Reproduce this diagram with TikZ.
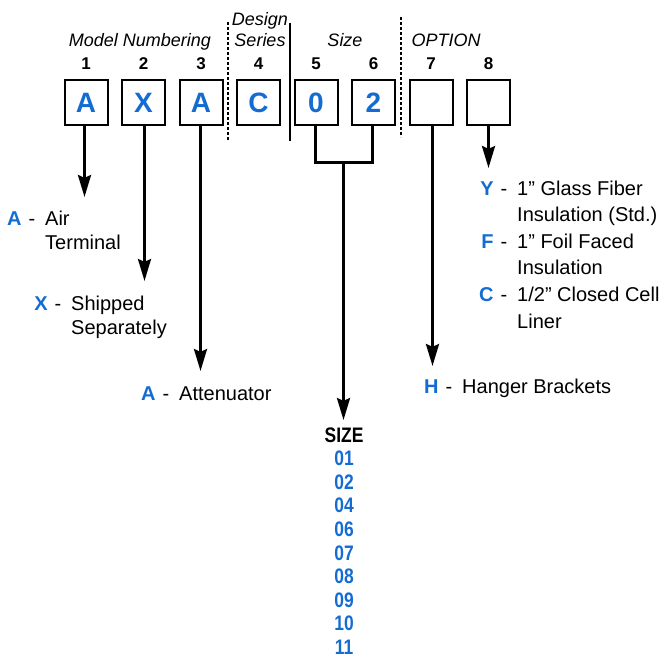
\documentclass[tikz,border=0pt]{standalone}
\usepackage{fontspec}
\setmainfont{Liberation Sans}
\usepackage{tikz}
\usetikzlibrary{arrows.meta,positioning}
\definecolor{codeblue}{RGB}{20,108,210}
\newcommand{\codeltr}[1]{{\color{codeblue}\bfseries #1}}

\begin{document}
\begin{tikzpicture}[
  x=1pt, y=-1pt,
  codebox/.style={rectangle, draw, line width=2pt, minimum width=43pt,
                  minimum height=45pt, inner sep=0pt, text=codeblue,
                  font=\fontsize{28}{28}\selectfont\bfseries},
  posnum/.style={inner sep=0pt, font=\fontsize{17}{17}\selectfont\bfseries},
  grphead/.style={inner sep=0pt, anchor=base,
                  font=\fontsize{18}{18}\selectfont\itshape},
  keyltr/.style={inner sep=0pt, anchor=base east,
                 font=\fontsize{20}{24}\selectfont},
  desc/.style={inner sep=0pt, anchor=base west, align=left,
               font=\fontsize{20}{24}\selectfont},
  optdesc/.style={desc, font=\fontsize{20}{26.6}\selectfont},
  sizecode/.style={inner sep=0pt, anchor=base, text=codeblue,
                   font=\fontsize{21}{21}\selectfont\bfseries},
  sep/.style={line width=1.3pt},
  bar/.style={line width=3pt},
  arr/.style={-{Stealth[length=22pt,width=13pt,inset=3pt]}, line width=3pt}
]
  \useasboundingbox (0,0) rectangle (664,658);

  % code boxes and their positions
  \foreach \ch [count=\i] in {A,X,A,C,0,2,{},{}} {
    \node[codebox] (b\i) at ({86+57.5*(\i-1)},102.5) {\ch};
    \node[posnum, above=9pt of b\i] (n\i) {\i};
  }

  % group headings
  \node[grphead] (hmodel) at (140,47) {Model Numbering};
  \node[grphead] (hdes)   at (260,26) {Design};
  \node[grphead] (hser)   at (260,47) {Series};
  \node[grphead] (hsize)  at (345,47) {Size};
  \node[grphead] (hopt)   at (446,47) {OPTION};

  % separators
  \draw[sep, dash pattern=on 3pt off 2pt] (228,22) -- (228,140);
  \draw[sep] (290,23) -- (290,141);
  \draw[sep, dash pattern=on 3pt off 2pt] (401,17) -- (401,137);

  % descriptions (multi-line nodes sit on their last line)
  \node[keyltr] (ka)  at (35.5,225) {\codeltr{A}\hspace{7pt}-};
  \node[desc]   (da)  at (45,249)   {Air\\Terminal};
  \node[keyltr] (kx)  at (61.5,310) {\codeltr{X}\hspace{7pt}-};
  \node[desc]   (dx)  at (71,334)   {Shipped\\Separately};
  \node[keyltr] (kat) at (169.5,400) {\codeltr{A}\hspace{7pt}-};
  \node[desc]   (dat) at (179,400)  {Attenuator};
  \node[keyltr] (kh)  at (452.5,393) {\codeltr{H}\hspace{7pt}-};
  \node[desc]   (dh)  at (462,393)  {Hanger Brackets};

  \node[keyltr]  (ky) at (507.5,195)   {\codeltr{Y}\hspace{7pt}-};
  \node[optdesc] (dy) at (517,221.6)   {1” Glass Fiber\\Insulation (Std.)};
  \node[keyltr]  (kf) at (507.5,248.2) {\codeltr{F}\hspace{7pt}-};
  \node[optdesc] (df) at (517,274.8)   {1” Foil Faced\\Insulation};
  \node[keyltr]  (kc) at (507.5,301.4) {\codeltr{C}\hspace{7pt}-};
  \node[optdesc] (dc) at (517,328)     {1/2” Closed Cell\\Liner};

  % size list
  \node[sizecode, text=black] (szh) at (344,442) {\scalebox{0.83}[1]{SIZE}};
  \foreach \s [count=\k] in {01,02,04,06,07,08,09,10,11}
    \node[sizecode] (sz\k) at (344,{442+23.6*\k}) {\scalebox{0.83}[1]{\s}};

  % arrow ends
  \coordinate (t1)  at (84.5,197);
  \coordinate (t2)  at (144.5,281);
  \coordinate (t3)  at (200.5,371);
  \coordinate (t7)  at (432.5,366);
  \coordinate (t8)  at (488.5,168);
  \coordinate (t5)  at (315.5,163);
  \coordinate (t6)  at (372.5,163);
  \coordinate (tsz) at (343.5,420);

  % arrows
  \foreach \i in {1,2,3,7,8}
    \draw[arr] (b\i.south -| t\i) -- (t\i);
  \draw[bar] (b5.south -| t5) -- (t5) -- (t6) -- (b6.south -| t6);
  \draw[arr] (t5 -| tsz) -- (tsz);
\end{tikzpicture}
\end{document}
